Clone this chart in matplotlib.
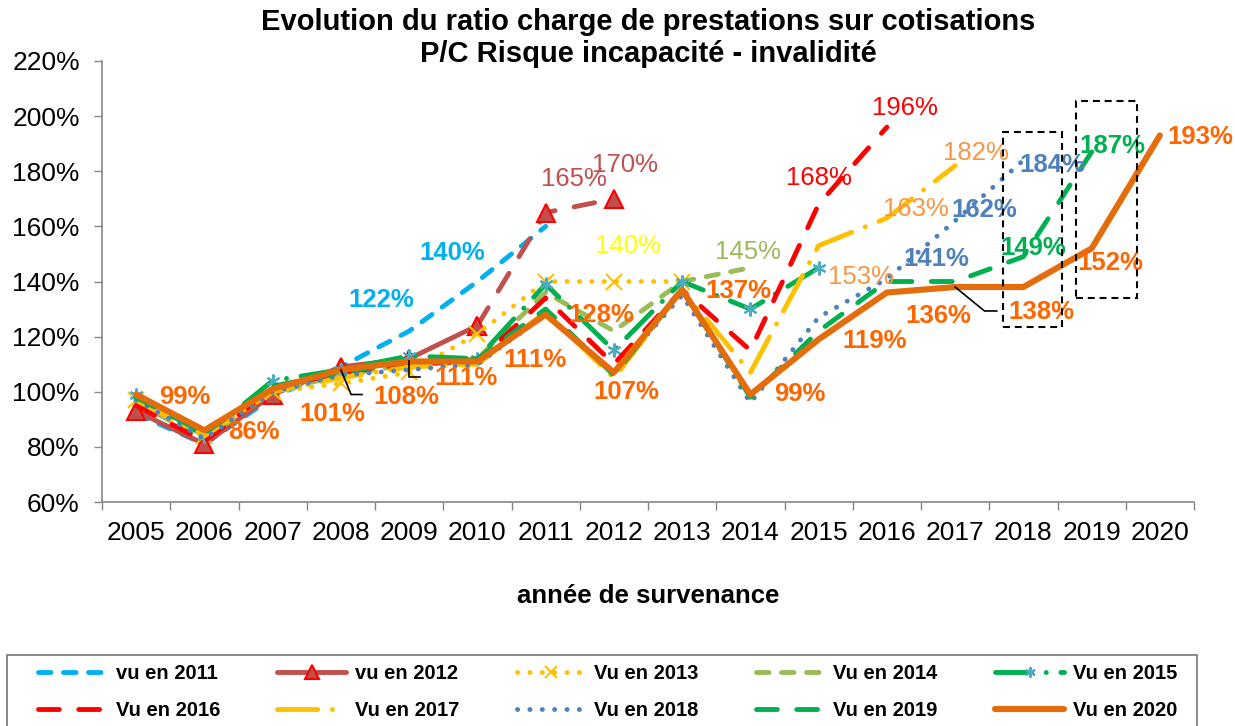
import matplotlib
matplotlib.use("Agg")
import matplotlib.pyplot as plt
from matplotlib.patches import Rectangle
from matplotlib.ticker import FuncFormatter

plt.rcParams['font.family'] = ['Liberation Sans', 'DejaVu Sans']
plt.rcParams['lines.scale_dashes'] = False

# --- donnees (P/C en %) ---
years = list(range(2005, 2021))

vu_2011 = [92, 81, 98, 109, 122, 140, 160]
vu_2012 = [93, 81, 99, 109, 112, 124, 165, 170]
vu_2013 = [97, 84, 100, 103, 107, 121, 140, 140, 140]
vu_2014 = [96, 83, 100, 106, 110, 112, 136, 122, 140, 145]
vu_2015 = [99, 84, 104, 108, 113, 112, 139, 115, 140, 130, 145]
vu_2016 = [95, 82, 101, 107, 110, 111, 134, 110, 137, 115, 168, 196]
vu_2017 = [97, 84, 100, 105, 109, 110, 129, 105, 137, 107, 153, 163, 182]
vu_2018 = [97, 83, 100, 106, 108, 110, 128, 107, 135, 96, 127, 141, 162, 184]
vu_2019 = [98, 85, 102, 107, 111, 112, 130, 106, 137, 98, 122, 140, 140, 149, 187]
vu_2020 = [99, 86, 101, 108, 111, 111, 128, 107, 137, 99, 119, 136, 138, 138, 152, 193]

series_names = ["vu en 2011", "vu en 2012", "Vu en 2013", "Vu en 2014", "Vu en 2015",
                "Vu en 2016", "Vu en 2017", "Vu en 2018", "Vu en 2019", "Vu en 2020"]
series_values = [vu_2011, vu_2012, vu_2013, vu_2014, vu_2015,
                 vu_2016, vu_2017, vu_2018, vu_2019, vu_2020]

# styles de trait (dashes en points)
LW = 3.5
DASH = (9, 9)
LONG = (15, 14)
DOT = (0.1, 8.8)
styles = {
    "vu en 2011": dict(color="#00B0F0", lw=LW, dashes=DASH),
    "vu en 2012": dict(color="#C0504D", lw=LW, marker="^", ms=13, mfc="#C0504D", mec="#FF0000", mew=1.5),
    "Vu en 2013": dict(color="#FFC000", lw=LW, dashes=DOT, marker="x", ms=12, mew=1.5),
    "Vu en 2014": dict(color="#9BBB59", lw=LW, dashes=DASH),
    "Vu en 2015": dict(color="#00B050", lw=LW, dashes=(26, 10.5, 0.1, 10.5), marker=(6, 2, 0), ms=10,
                       mec="#4BACC6", mfc="#4BACC6", mew=1.5),
    "Vu en 2016": dict(color="#FF0000", lw=LW, dashes=LONG),
    "Vu en 2017": dict(color="#FFC000", lw=LW, dashes=(29, 10.5, 0.1, 10.5)),
    "Vu en 2018": dict(color="#4F81BD", lw=LW, dashes=DOT),
    "Vu en 2019": dict(color="#00B050", lw=LW, dashes=LONG),
    "Vu en 2020": dict(color="#E46C0A", lw=4.4),
}

# etiquettes : indice de l'annee -> decalage (dx, dy) du texte
label_pos = {
    "vu en 2011": {4: (-0.41, 11.3), 5: (-0.37, 10.4)},
    "vu en 2012": {6: (0.41, 12.3), 7: (0.16, 12.4)},
    "Vu en 2013": {7: (0.2, 13)},
    "Vu en 2014": {9: (-0.03, 5.7)},
    "Vu en 2016": {10: (0.0, 9.6), 11: (0.26, 7)},
    "Vu en 2017": {10: (0.62, -11.3), 11: (0.42, 3.4), 12: (0.3, 4.7)},
    "Vu en 2018": {11: (0.72, 7), 12: (0.43, 4), 13: (0.43, -1.7)},
    "Vu en 2019": {13: (0.14, 3.2), 14: (0.3, 2)},
    "Vu en 2020": {0: (0.72, -0.9), 1: (0.72, -0.5), 2: (0.87, -9), 3: (0.96, -10),
                   4: (0.84, -6), 5: (0.84, 0.5), 6: (0.82, 0), 7: (0.18, -7),
                   8: (0.83, -0.4), 9: (0.72, 0.2), 10: (0.82, -0.5), 11: (0.75, -8.5),
                   12: (1.27, -9), 14: (0.27, -5.2), 15: (0.59, -0.5)},
}
label_style = {
    "vu en 2011": ("#00B0F0", "bold"),
    "vu en 2012": ("#C0504D", "normal"),
    "Vu en 2013": ("#FFFF00", "normal"),
    "Vu en 2014": ("#9BBB59", "normal"),
    "Vu en 2016": ("#FF0000", "normal"),
    "Vu en 2017": ("#F79646", "normal"),
    "Vu en 2018": ("#4F81BD", "bold"),
    "Vu en 2019": ("#00B050", "bold"),
    "Vu en 2020": ("#FF6600", "bold"),
}
# lignes de rappel (coude, fin) relatives au point
leaders = {3: ((0.15, -9), (0.31, -9)), 4: ((0.0, -5.7), (0.16, -5.7)),
           12: ((0.43, -8.7), (0.61, -8.7))}

fig = plt.figure(figsize=(12.35, 7.26), dpi=100)
ax = fig.add_axes([102 / 1235, 1 - 502 / 726, (1194 - 102) / 1235, (502 - 61) / 726])

handles = {}
for name, vals in zip(series_names, series_values):
    st = dict(styles[name])
    xs = list(range(len(vals)))
    kw = dict(solid_capstyle="round", dash_capstyle="round", solid_joinstyle="round")
    if name == "vu en 2012":
        # trait plein jusqu'en 2010 puis tirets
        h, = ax.plot(xs[:6], vals[:6], label=name, **st, **kw)
        st2 = dict(st)
        st2["dashes"] = LONG
        ax.plot(xs[5:], vals[5:], **st2, **kw)
    else:
        h, = ax.plot(xs, vals, label=name, **st, **kw)
    handles[name] = h

for name, vals in zip(series_names, series_values):
    if name not in label_pos:
        continue
    color, weight = label_style[name]
    for i, (dx, dy) in label_pos[name].items():
        ax.text(i + dx, vals[i] + dy, f"{vals[i]}%", color=color, fontweight=weight,
                fontsize=18.5, ha="center", va="center", zorder=10, clip_on=False)

for i, ((ex, ey), (fx, fy)) in leaders.items():
    v = vu_2020[i]
    ax.plot([i, i + ex, i + fx], [v, v + ey, v + fy], color="black", lw=1.2, zorder=9)

# cadres pointilles 2018 / 2019
for x0, y0, w, h in [(12.70, 123.5, 0.86, 70.7), (13.77, 134.0, 0.89, 71.5)]:
    ax.add_patch(Rectangle((x0, y0), w, h, fill=False, ec="black", lw=1.5,
                           ls=(0, (5, 3.5)), clip_on=False, zorder=11))

ax.set_xlim(-0.5, 15.5)
ax.set_ylim(60, 220)
ax.set_yticks(range(60, 221, 20))
ax.yaxis.set_major_formatter(FuncFormatter(lambda v, p: f"{v:.0f}%"))
ax.set_xticks(range(len(years)))
ax.set_xticklabels([str(y) for y in years])
ax.set_xticks([i - 0.5 for i in range(len(years) + 1)], minor=True)
ax.tick_params(axis="x", which="major", length=0, pad=14, labelsize=19)
ax.tick_params(axis="x", which="minor", length=6, width=1, color="#868686", direction="out")
ax.tick_params(axis="y", length=6, width=1, color="#868686", pad=10, labelsize=19)
for s in ("top", "right"):
    ax.spines[s].set_visible(False)
for s in ("left", "bottom"):
    ax.spines[s].set_color("#868686")
    ax.spines[s].set_linewidth(1.2)

fig.text(648 / 1235, 1 - 38 / 726,
         "Evolution du ratio charge de prestations sur cotisations\nP/C Risque incapacité - invalidité",
         ha="center", va="center", fontsize=21, fontweight="bold", linespacing=1.15)
fig.text(648 / 1235, 1 - 596 / 726, "année de survenance", ha="center", va="center",
         fontsize=18.5, fontweight="bold")

# cadre de legende (coupe en bas comme l'original)
fig.patches.append(Rectangle((7 / 1235, -0.02), (1197 - 7) / 1235, 1 - 655 / 726 + 0.02,
                             transform=fig.transFigure, fill=False, ec="#808080", lw=1.3))

order = [0, 5, 1, 6, 2, 7, 3, 8, 4, 9]
leg_h = [handles[series_names[k]] for k in order]
leg_l = [series_names[k] for k in order]
leg = fig.legend(leg_h, leg_l, ncol=5, loc="upper left", bbox_to_anchor=(32 / 1235, 1 - 658 / 726),
                 frameon=False, prop=dict(weight="bold", size=14.5), handlelength=3.4,
                 handletextpad=0.45, columnspacing=2.85, labelspacing=0.9, borderpad=0.3,
                 borderaxespad=0, numpoints=1, markerscale=0.75)

fig.savefig("out.png", dpi=100)
